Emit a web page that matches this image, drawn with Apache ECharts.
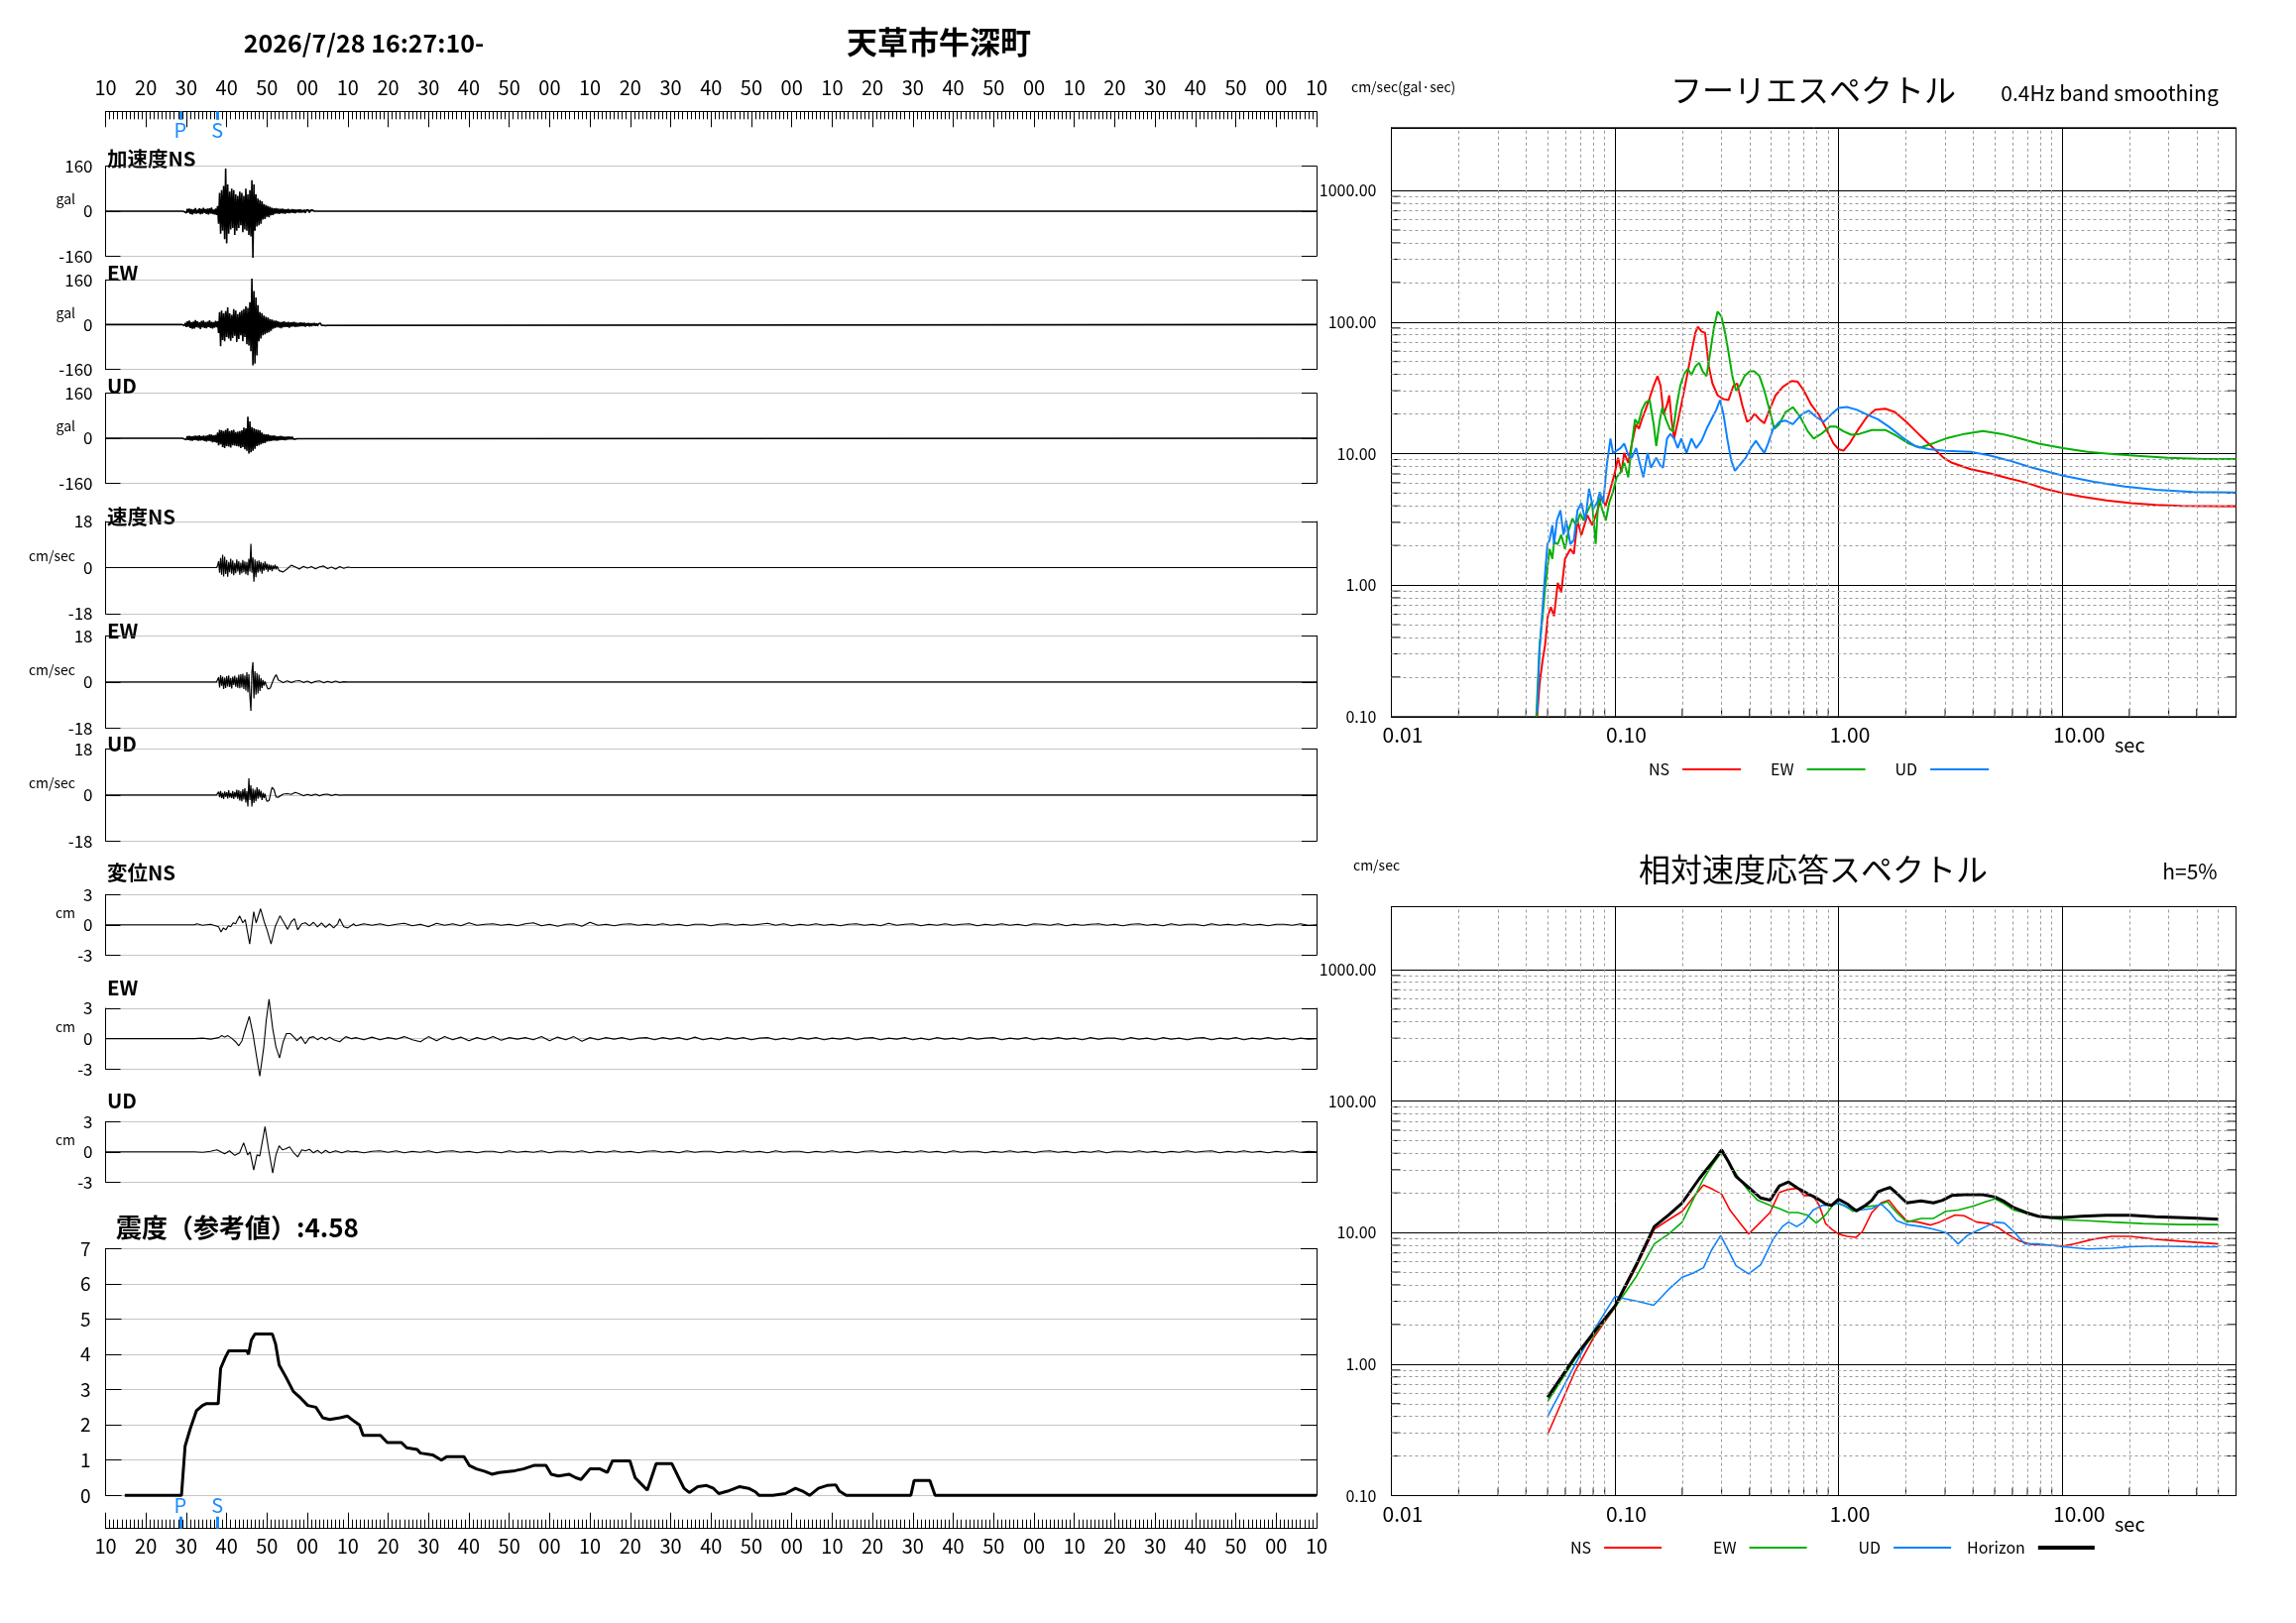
<!DOCTYPE html>
<html><head><meta charset="utf-8">
<script src="https://cdn.jsdelivr.net/npm/echarts/dist/echarts.min.js"></script>
<style>html,body{margin:0;padding:0;background:#fff}#c{width:2316px;height:1637px}</style>
</head><body><div id="c"></div>
<script>
// ---------------- DATA ----------------
const timeLabelStart = 10;          // 16:27:10
const P_TIME = 18.5, S_TIME = 27.7;  // seconds from start

// acceleration (gal), samples every 0.25 s
const accDt = 0.25;
const accNS_t0 = 19;
const accNS = [0,2,-2,3,-6,8,-5,9,-10,7,-12,6,-8,11,-9,5,-7,10,-11,8,-9,12,-6,7,-10,9,-12,10,-8,13,-10,6,-12,9,-14,18,
-45,65,-80,75,-70,90,-100,152,-115,95,-80,70,-65,80,-60,75,-85,60,-70,55,-60,70,-50,65,-75,55,-65,80,-70,60,-85,75,
-90,110,-166,95,-70,60,-55,45,-50,40,-45,35,-30,25,-28,22,-20,18,-22,16,-15,12,-14,10,-9,11,-8,9,-10,8,-7,9,
-8,7,-9,6,-6,8,-7,5,-5,7,-6,6,-7,5,-4,6,-5,6,-5,4,-4,5,-6,4,-3,4,-5,3,-3,4,-2,0];
const accEW_t0 = 19;
const accEW = [0,3,-4,6,-9,12,-8,14,-12,9,-15,11,-14,16,-10,12,-11,8,-16,13,-10,14,-12,9,-13,11,-9,15,-12,10,-14,9,-11,13,-10,12,
-30,45,-77,50,-55,40,-60,48,-45,62,-50,40,-58,35,-48,55,-40,50,-62,38,-52,45,-38,50,-60,55,-45,65,-70,60,-75,80,
-95,165,-146,120,-140,97,-110,70,-60,45,-50,40,-38,32,-35,28,-30,25,-28,20,-22,18,-15,14,-12,14,-10,12,-11,9,-13,10,
-10,12,-9,8,-9,10,-11,8,-8,9,-7,10,-9,7,-8,6,-7,8,-6,7,-6,7,-8,5,-5,6,-7,5,-6,5,-4,6,-5,4,-5,3,-4,5,-3,4,-3,4,-4,3,-3,2,-3,0];
const accUD_t0 = 19;
const accUD = [0,2,-3,4,-5,7,-6,8,-8,6,-9,7,-6,9,-7,8,-9,10,-8,7,-7,9,-10,8,-12,10,-9,14,-11,13,-15,10,-14,12,-16,20,
-25,30,-22,28,-32,25,-35,30,-28,35,-30,25,-33,28,-25,30,-26,22,-28,24,-30,25,-35,28,-32,38,-40,35,-45,77,-55,60,
-50,40,-45,35,-38,32,-28,30,-25,28,-22,20,-18,15,-17,14,-12,14,-11,10,-10,9,-8,10,-8,7,-9,6,-7,8,-6,7,-6,5,-7,5,
-5,6,-4,5,-4,5,-3,4,-3,2,-2,0];

// velocity (cm/sec), burst every 0.25 s, tail every 1 s
const velDt = 0.25, velTailDt = 1;
const velNS_t0 = 27.5, velNS_tail_t0 = 43;
const velNS = [0,0.8,2.5,-2.0,3.8,-2.8,5.0,-3.5,4.2,-2.5,3.0,-3.6,2.2,-1.8,3.5,-2.4,2.8,-3.0,1.8,-2.2,3.2,-1.5,2.5,-2.8,1.9,-2.2,
3.0,-1.8,2.4,-2.6,2.2,-3.0,3.5,-1.5,9.3,-2.0,4.0,-5.5,3.2,-3.8,2.6,-2.0,2.8,-1.5,2.2,-2.4,1.8,-1.2,2.4,-0.8,1.5,-1.6,1.2,-0.9,
1.0,-1.4,0.8,-0.6,1.1,-0.7,0.5,-0.4];
const velNS_tail = [-1.2,-1.7,-0.5,0.9,0.3,-0.6,0.5,-0.2,0.4,-0.5,0.3,0.6,-0.4,0.2,-0.6,0.4,-0.3,0.2,0];
const velEW_t0 = 27.5, velEW_tail_t0 = 43;
const velEW = [0,0.6,1.8,-2.2,2.6,-1.5,2.0,-2.8,1.6,-2.4,2.2,-1.8,2.5,-2.0,1.5,-2.6,2.0,-1.2,2.4,-1.9,1.7,-2.3,2.8,-2.5,3.0,-2.2,
3.2,-2.8,2.5,-3.4,3.8,-4.0,3.0,-5.5,-11.3,4.0,7.7,-6.5,4.2,-5.0,3.5,-4.5,2.8,-3.5,1.5,-2.4,0.8,-1.5,0.2,-1.0,-2.0,-2.8,-3.2,-2.5,
-1.5,-0.5,0.5,1.5,2.2,2.8,2.0,0.8];
const velEW_tail = [0.2,-0.3,0.4,-0.2,0.3,0.5,-0.2,0.3,-0.4,0.2,0.4,-0.3,0.2,-0.2,0.3,-0.2,0.1,0];
const velUD_t0 = 27.5, velUD_tail_t0 = 43;
const velUD = [0,0.5,1.2,-0.9,1.5,-1.2,0.8,-1.6,1.3,-0.7,1.0,-1.4,1.8,-1.0,0.7,-1.2,1.5,-1.6,1.1,-0.9,2.0,-1.5,1.8,-2.2,1.4,-2.5,
2.2,-1.8,2.6,-3.0,1.5,-4.5,6.5,-2.0,3.8,-4.5,2.5,-3.2,2.0,-2.5,3.0,-1.5,2.2,-1.0,1.6,-2.0,0.8,-1.2,0.5,-1.5,-2.5,-3.0,-2.2,-0.5,
1.5,3.0,3.4,2.0,0.5,-0.8,-1.3,-0.9];
const velUD_tail = [-0.4,0.3,0.5,0.2,1.0,0.4,-0.3,0.2,-0.2,0.3,-0.3,0.2,0.3,-0.2,0.2,-0.1,0];

// displacement (cm): [sec, cm] for the main phase, tail every 2 s
const dispTailDt = 2, dispTail_t0 = 62;
const dispNS = [[0,0],[22,0],[22.6,0.1],[24,-0.05],[26,0.05],[28,-0.2],[28.6,-0.7],[29.2,-0.3],[29.8,-0.5],[30.4,-0.1],[31,-0.2],[31.6,0.2],[32.2,0.1],
[33.2,0.9],[34,0.2],[34.6,0.5],[35.7,-1.9],[36.7,1.3],[37.3,0.2],[38.4,1.6],[39.3,0.3],[40,-0.5],[41,-1.9],[42,-0.2],[43.2,0.9],[44.2,0.2],
[45.1,-0.45],[46,0.3],[46.8,0.6],[47.6,-0.5],[48.6,0.1],[49.5,0.2],[50.5,-0.1],[51.5,0.25],[52.5,-0.2],[53.5,0.2],[54.5,-0.25],[55.5,0.1],
[56.5,-0.3],[57.5,0.1],[58,0.6],[59,-0.2],[60,-0.3],[61.5,0.1]];
const dispNS_tail = [-0.1,0.1,-0.05,0.1,-0.1,0.05,0.15,-0.1,0.05,-0.2,0.15,-0.05,0.1,-0.1,0.2,-0.05,0.05,0.1,-0.05,0.05,
-0.1,0.1,0.2,-0.1,0.05,-0.15,0.05,0.1,-0.15,0.25,-0.05,0.05,-0.1,0.05,0.1,-0.05,0.05,-0.05,0.1,-0.05,
0.05,-0.1,0.05,0.05,-0.1,0.05,0.1,-0.05,0.05,-0.05,0.05,0.15,-0.05,0.1,-0.1,0.05,-0.05,0.1,-0.05,0.05,
-0.1,0.05,0.1,-0.05,0.05,-0.1,0.15,-0.05,0.05,0.1,-0.1,0.05,-0.05,0.1,-0.05,0.05,0.1,-0.1,0.05,-0.05,
0.1,-0.05,0.05,-0.1,0.1,0.05,-0.05,0.1,-0.1,0.05,-0.05,0.05,0.1,-0.05,0.05,-0.1,0.05,0.1,-0.05,0.05,
-0.1,0.1,-0.05,0.05,0.05,-0.1,0.1,-0.05,0.05,-0.05,0.1,-0.05,0.05,-0.1,0.05,0.05,-0.05,0.1,-0.05,0];
const dispEW = [[0,0],[22,0],[24,0.05],[26,-0.05],[28,0.1],[28.8,0.3],[29.5,0.15],[30.3,0.3],[31.2,0.05],[32.2,-0.3],[33,-0.7],[33.8,-0.2],
[34.5,0.8],[35.6,2.2],[36.5,0.5],[37.3,-1.5],[38.2,-3.7],[39.2,-0.8],[39.8,1.8],[40.5,3.9],[41.4,1.0],[42.2,-0.8],[43.1,-1.9],[44,-0.3],
[44.8,0.5],[45.8,0.5],[46.8,0.1],[47.4,-0.2],[48.4,0.2],[49.5,-0.5],[50.5,0.1],[51.5,0.2],[52.5,-0.1],[53.5,0.15],[54.5,-0.1],[55.5,0.15],
[56.5,-0.1],[58,-0.3],[59.5,0.2],[61,0]];
const dispEW_tail = [0.1,-0.1,0.15,-0.1,0.1,-0.05,0.2,-0.1,-0.3,0.2,-0.2,0.2,-0.1,0.15,-0.2,0.1,-0.1,0.2,-0.15,0.1,
-0.05,0.1,-0.1,0.2,-0.2,0.15,-0.1,0.2,-0.25,0.1,-0.1,0.1,-0.05,0.1,-0.1,0.05,0.1,-0.1,0.1,-0.05,
0.1,-0.1,0.15,-0.1,0.05,-0.1,0.1,-0.05,0.1,-0.1,0.05,0.1,-0.1,0.05,-0.1,0.1,-0.05,0.1,-0.1,0.05,
-0.05,0.1,-0.1,0.05,0.1,-0.1,0.05,-0.05,0.1,-0.1,0.05,-0.1,0.1,-0.05,0.05,-0.1,0.1,-0.05,0.05,0.1,
-0.1,0.05,-0.05,0.1,-0.1,0.05,-0.05,0.1,-0.05,0.05,-0.1,0.1,-0.05,0.05,0.05,-0.1,0.1,-0.05,0.05,-0.1,
0.1,-0.05,0.05,-0.1,0.05,0.1,-0.1,0.05,-0.05,0.1,-0.1,0.05,-0.05,0.1,-0.05,0.05,-0.1,0.05,-0.05,0];
const dispUD = [[0,0],[22,0],[24,-0.05],[26,0.05],[27.6,0.2],[29.5,-0.2],[30.7,0.1],[32,-0.35],[33.2,-0.1],[34.2,0.9],[35.2,-0.3],[35.8,0.0],
[36.7,-1.8],[37.5,-0.3],[38.2,-0.4],[39.5,2.5],[40.4,0.2],[41.4,-2.1],[42.2,-0.3],[43,0.6],[43.8,0.2],[44.6,0.3],[45.6,0.5],[46.6,-0.1],
[47.6,-0.5],[48.6,0.2],[49.5,0.1],[50.5,0.25],[51.5,-0.1],[52.5,0.15],[53.5,-0.15],[54.5,0.15],[55.5,-0.1],[57,0.1],[58.5,-0.1],[60,0.1],[61,0]];
const dispUD_tail = [0.05,-0.1,0.05,0.1,-0.05,0.1,-0.1,0.05,-0.05,0.1,-0.1,0.05,0.1,-0.05,0.05,-0.1,0.05,0.05,-0.1,0.1,
-0.05,0.05,-0.05,0.1,-0.1,0.05,0.05,-0.05,0.1,-0.1,0.05,-0.05,0.1,-0.05,0.05,-0.1,0.05,0.1,-0.05,0.05,
-0.1,0.1,-0.05,0.05,0.05,-0.1,0.05,-0.05,0.1,-0.05,0.05,-0.1,0.1,-0.05,0.05,0.05,-0.1,0.05,-0.05,0.1,
-0.05,0.05,-0.1,0.05,0.1,-0.05,0.05,-0.1,0.05,-0.05,0.1,-0.05,0.05,-0.1,0.1,-0.05,0.05,0.05,-0.1,0.05,
-0.05,0.1,-0.05,0.05,-0.1,0.05,0.1,-0.05,0.05,-0.1,0.05,-0.05,0.1,-0.1,0.05,0.05,-0.05,0.1,-0.05,0.05,
-0.1,0.05,-0.05,0.1,-0.05,0.05,0.1,-0.1,0.05,-0.05,0.1,-0.05,0.05,-0.1,0.05,-0.05,0.1,-0.05,0.05,0];

// seismic intensity (reference value) vs time [sec, intensity]
const intensity = [[4.75,0],[18.8,0],[19.7,1.4],[21.0,1.9],[22.5,2.4],[24.0,2.55],[24.9,2.6],[27.9,2.6],[28.5,3.6],[29.6,3.9],[30.5,4.1],
[35.0,4.1],[35.4,4.0],[36.1,4.4],[37.0,4.58],[41.3,4.58],[42.1,4.3],[43.0,3.7],[44.7,3.35],[46.5,2.95],[48.4,2.75],[50.1,2.55],[52.1,2.5],
[53.8,2.2],[55.5,2.15],[58.1,2.2],[59.9,2.25],[61.6,2.1],[62.9,2.0],[63.8,1.7],[68.1,1.7],[69.8,1.5],[73.3,1.5],[74.6,1.35],[77.2,1.3],
[78.0,1.2],[81.0,1.15],[83.2,1.0],[84.5,1.1],[88.8,1.1],[90.1,0.85],[91.9,0.75],[94.0,0.68],[95.7,0.6],[97.5,0.65],[101.4,0.7],[103.5,0.75],
[106.1,0.85],[109.1,0.85],[110.4,0.6],[112.2,0.55],[114.8,0.6],[116.5,0.5],[117.8,0.45],[120.0,0.75],[122.5,0.75],[124.3,0.65],[125.6,0.98],
[129.9,0.98],[131.2,0.5],[132.9,0.3],[134.2,0.15],[136.4,0.9],[140.3,0.9],[142.0,0.5],[143.3,0.2],[144.6,0.08],[146.7,0.25],[148.9,0.28],
[150.6,0.2],[151.9,0.05],[154.1,0.12],[157.1,0.25],[159.3,0.2],[161.0,0.1],[161.9,0],[165.3,0],[168.4,0.05],[170.9,0.2],[172.7,0.12],
[174.4,0],[176.6,0.2],[178.7,0.28],[180.9,0.3],[181.8,0.12],[183.5,0],[199.5,0],[200.3,0.42],[204.2,0.42],[205.5,0],[300,0]];
const intensityValue = 4.58;

// Fourier spectrum [period sec, cm/sec]
const fourierNS = [[0.0449,0.1],[0.046,0.177],[0.0475,0.27],[0.0487,0.35],[0.0501,0.58],[0.0517,0.68],[0.0534,0.58],[0.0555,1.04],[0.0575,0.88],
[0.0598,1.58],[0.0632,1.88],[0.0655,1.73],[0.068,3.1],[0.0708,2.4],[0.0753,3.4],[0.0792,2.85],[0.0836,3.7],[0.0873,4.7],[0.0908,4.0],[0.0955,5.4],
[0.1,7.2],[0.1032,9.3],[0.107,7.2],[0.11,10.1],[0.1147,8.5],[0.119,11.9],[0.1244,16.7],[0.128,15.4],[0.132,18.2],[0.137,21.5],[0.143,26.5],
[0.149,32.8],[0.155,38.8],[0.16,32.8],[0.165,19.8],[0.171,23.4],[0.175,27.7],[0.179,18.2],[0.184,13.0],[0.19,16.7],[0.196,21.5],[0.204,30.1],
[0.212,42.1],[0.22,59.0],[0.229,82.7],[0.235,92],[0.244,84.6],[0.253,82.7],[0.263,45.9],[0.273,34.1],[0.288,27.7],[0.306,25.9],[0.322,25.5],
[0.339,32.8],[0.352,34.1],[0.371,23.4],[0.39,17.4],[0.405,18.2],[0.421,20.1],[0.443,18.2],[0.466,17.0],[0.491,21.5],[0.523,27.7],[0.564,32.2],
[0.617,35.6],[0.657,35.1],[0.70,30.1],[0.756,23.4],[0.816,19.8],[0.881,15.4],[0.95,11.9],[1.0,10.8],[1.052,10.5],[1.12,11.9],[1.23,15.4],
[1.34,19.0],[1.46,21.5],[1.62,21.9],[1.79,20.6],[2.01,17.4],[2.28,14.1],[2.6,11.4],[2.95,9.3],[3.22,8.5],[3.9,7.6],[4.72,7.1],[5.72,6.5],
[6.92,6.0],[8.38,5.4],[10.1,5.0],[12.3,4.7],[15.8,4.4],[20.4,4.2],[26.3,4.07],[34,4.0],[60,3.96]];
const fourierEW = [[0.0445,0.1],[0.046,0.35],[0.0475,0.58],[0.0487,0.95],[0.0499,1.34],[0.051,1.88],[0.0525,1.58],[0.0534,2.13],[0.0555,2.05],
[0.0575,2.41],[0.0598,1.88],[0.062,2.6],[0.0645,3.2],[0.067,2.85],[0.070,3.5],[0.0725,3.1],[0.0757,3.7],[0.079,4.3],[0.082,2.05],[0.0845,4.7],
[0.0875,3.8],[0.091,3.1],[0.0945,4.3],[0.098,5.1],[0.1017,6.6],[0.106,7.2],[0.110,8.5],[0.1147,6.6],[0.119,11.9],[0.123,18.2],[0.127,16.7],
[0.132,21.5],[0.137,24.4],[0.143,25.5],[0.149,16.7],[0.153,11.4],[0.159,18.2],[0.163,22.5],[0.169,18.2],[0.176,15.4],[0.182,14.8],[0.189,23.4],
[0.196,32.8],[0.204,40.4],[0.212,44.0],[0.220,39.6],[0.229,45.9],[0.238,49.0],[0.247,42.1],[0.257,38.8],[0.267,59.0],[0.277,90],[0.288,120],
[0.299,111],[0.311,82.7],[0.322,59.0],[0.335,38.8],[0.348,30.1],[0.362,32.8],[0.380,38.8],[0.400,42.1],[0.421,42.1],[0.443,38.8],[0.466,30.1],
[0.491,21.5],[0.516,15.4],[0.543,16.7],[0.579,20.6],[0.625,22.5],[0.674,19.0],[0.728,14.8],[0.775,13.0],[0.837,14.1],[0.915,16.0],[0.975,16.0],
[1.05,14.8],[1.14,13.9],[1.24,14.1],[1.41,15.1],[1.62,15.1],[1.82,13.6],[2.06,11.9],[2.31,11.1],[2.63,11.9],[3.02,13.0],[3.66,14.1],[4.43,14.8],
[5.36,14.1],[6.49,13.0],[7.86,11.9],[10.1,11.0],[13.0,10.3],[16.8,9.9],[21.7,9.6],[29.7,9.3],[43.7,9.1],[60,9.1]];
const fourierUD = [[0.0449,0.107],[0.046,0.32],[0.0475,0.68],[0.0487,1.23],[0.0499,2.05],[0.051,2.2],[0.0525,2.85],[0.0534,2.05],[0.055,3.1],
[0.057,3.7],[0.0589,2.41],[0.0605,3.1],[0.0632,2.05],[0.0655,2.2],[0.068,3.7],[0.0708,4.2],[0.0737,3.1],[0.0766,5.4],[0.080,3.8],[0.0836,4.3],
[0.0855,5.1],[0.0886,4.2],[0.092,8.2],[0.0955,13.0],[0.098,10.1],[0.1017,10.5],[0.106,11.0],[0.110,11.9],[0.1147,9.7],[0.119,9.3],[0.1244,11.0],
[0.129,8.5],[0.134,6.6],[0.140,10.1],[0.145,7.8],[0.153,9.3],[0.159,8.2],[0.164,7.8],[0.171,13.0],[0.177,14.1],[0.184,13.0],[0.191,11.0],
[0.198,13.0],[0.209,10.1],[0.220,13.0],[0.231,11.0],[0.244,12.5],[0.257,15.4],[0.270,18.2],[0.284,21.5],[0.295,25.5],[0.306,19.8],[0.318,13.0],
[0.331,8.9],[0.344,7.4],[0.362,8.2],[0.385,9.3],[0.405,11.0],[0.427,12.5],[0.449,11.0],[0.466,10.1],[0.484,11.9],[0.510,15.4],[0.543,17.4],
[0.579,17.8],[0.625,16.7],[0.683,19.8],[0.737,21.2],[0.795,19.0],[0.858,17.4],[0.927,19.8],[1.0,22.2],[1.09,22.6],[1.21,21.5],[1.34,19.8],
[1.50,18.2],[1.68,16.0],[1.94,13.2],[2.20,11.4],[2.53,10.8],[3.02,10.5],[3.90,10.3],[4.72,9.7],[5.72,8.9],[7.37,7.8],[10.1,6.8],[13.9,6.1],
[19.1,5.6],[26.3,5.3],[38.5,5.1],[60,5.05]];

// Relative velocity response spectrum, h=5% [period sec, cm/sec]
const respNS = [[0.05,0.292],[0.0665,0.89],[0.0805,1.6],[0.1,2.69],[0.124,5.4],[0.15,10.6],[0.174,12.5],[0.2,14.5],[0.223,18.3],[0.249,23.0],
[0.274,21.3],[0.3,19.6],[0.327,14.8],[0.36,12.0],[0.396,9.75],[0.435,11.4],[0.494,14.2],[0.544,20.2],[0.598,21.3],[0.658,21.7],[0.70,19.1],
[0.77,19.1],[0.82,16.1],[0.875,11.7],[0.933,10.6],[1.0,9.75],[1.093,9.35],[1.2,9.2],[1.28,10.2],[1.41,14.2],[1.55,16.8],[1.68,17.6],[1.82,14.8],
[2.02,12.3],[2.27,12.0],[2.58,11.4],[2.83,12.0],[3.32,13.6],[3.65,13.4],[4.15,12.0],[4.71,11.7],[5.18,10.9],[5.69,9.75],[6.46,8.6],[7.34,8.1],
[8.88,8.0],[10.1,7.9],[11.4,8.2],[13.8,8.9],[16.7,9.35],[20.2,9.35],[26.1,8.9],[33.7,8.6],[50,8.2]];
const respEW = [[0.05,0.52],[0.0665,1.1],[0.0805,1.67],[0.1,2.69],[0.124,4.57],[0.15,8.2],[0.174,9.75],[0.2,12.0],[0.223,17.6],[0.249,25.6],
[0.274,33.0],[0.3,40.7],[0.327,33.0],[0.36,25.6],[0.396,20.8],[0.435,17.6],[0.494,16.1],[0.544,15.2],[0.598,14.2],[0.658,14.2],[0.723,13.6],
[0.796,11.8],[0.875,13.6],[0.96,16.8],[1.06,16.1],[1.16,14.5],[1.32,15.7],[1.50,16.1],[1.65,17.2],[1.82,14.2],[2.02,12.0],[2.34,12.8],[2.66,12.8],
[3.02,14.5],[3.43,14.8],[4.01,15.9],[4.57,17.2],[5.02,18.0],[5.52,16.5],[6.07,14.8],[7.34,13.6],[8.88,12.9],[10.1,12.5],[13.0,12.3],[16.7,12.0],
[23.0,11.7],[33.7,11.5],[50,11.5]];
const respUD = [[0.05,0.40],[0.0665,1.0],[0.0805,1.81],[0.1,3.27],[0.111,3.13],[0.126,3.0],[0.149,2.8],[0.174,3.7],[0.2,4.57],[0.223,4.9],
[0.249,5.4],[0.27,7.3],[0.297,9.5],[0.322,7.3],[0.348,5.6],[0.396,4.85],[0.449,5.7],[0.51,8.9],[0.561,11.1],[0.598,12.0],[0.65,11.1],[0.70,12.0],
[0.77,14.8],[0.848,16.1],[0.933,16.1],[1.0,16.8],[1.093,15.5],[1.24,14.8],[1.41,15.2],[1.55,16.5],[1.70,14.2],[1.82,12.3],[2.02,11.5],[2.34,11.1],
[2.66,10.6],[3.02,10.0],[3.21,9.2],[3.43,8.2],[3.77,9.5],[4.15,10.3],[4.57,11.1],[5.02,12.0],[5.52,11.8],[6.07,10.2],[6.8,8.2],[7.82,8.2],
[8.88,8.0],[10.1,7.8],[13.0,7.5],[16.7,7.6],[20.2,7.8],[26.1,7.9],[38.2,7.8],[50,7.8]];
const respH = [[0.05,0.558],[0.0665,1.14],[0.0805,1.74],[0.1,2.76],[0.124,5.6],[0.15,11.1],[0.174,13.6],[0.2,16.8],[0.238,25.6],[0.274,34.5],
[0.3,42.5],[0.322,34.5],[0.348,26.7],[0.396,22.0],[0.449,18.3],[0.494,17.6],[0.544,22.6],[0.598,24.2],[0.658,21.7],[0.723,19.9],[0.796,18.3],
[0.875,16.5],[0.933,16.1],[1.0,17.9],[1.093,16.5],[1.2,14.6],[1.32,16.1],[1.41,17.6],[1.50,20.4],[1.60,21.3],[1.70,22.0],[1.82,19.9],[2.02,16.8],
[2.34,17.4],[2.66,16.8],[2.92,17.6],[3.21,19.1],[3.65,19.4],[4.42,19.4],[5.02,18.6],[5.52,17.2],[6.07,15.5],[6.89,14.2],[7.82,13.3],[8.88,13.0],
[10.1,13.0],[12.2,13.3],[15.7,13.5],[20.2,13.5],[26.1,13.2],[38.2,12.9],[50,12.6]];

// grid ticks of the log charts
const logMinorX = [0.02,0.03,0.04,0.05,0.06,0.07,0.08,0.09,0.2,0.3,0.4,0.5,0.6,0.7,0.8,0.9,2,3,4,5,6,7,8,9,20,30,40,50];
const logMinorY = [0.2,0.3,0.4,0.5,0.6,0.7,0.8,0.9,2,3,4,5,6,7,8,9,20,30,40,50,60,70,80,90,200,300,400,500,600,700,800,900];
const legendNames = ['NS','EW','UD'];

// ---------------- BUILD ----------------
const FONT = '"Noto Sans CJK JP", "Noto Sans", sans-serif';
const RED = '#ff0000', GREEN = '#00b000', BLUE = '#0a82ff', PSC = '#1a8cff';
function seq(t0, dt, vals) { return vals.map((v, i) => [+(t0 + i * dt).toFixed(3), v]); }
function pad(arr) { return [[0, 0]].concat(arr, [[300, 0]]); }

const trAccNS = pad(seq(accNS_t0, accDt, accNS));
const trAccEW = pad(seq(accEW_t0, accDt, accEW));
const trAccUD = pad(seq(accUD_t0, accDt, accUD));
const trVelNS = pad(seq(velNS_t0, velDt, velNS).concat(seq(velNS_tail_t0, velTailDt, velNS_tail)));
const trVelEW = pad(seq(velEW_t0, velDt, velEW).concat(seq(velEW_tail_t0, velTailDt, velEW_tail)));
const trVelUD = pad(seq(velUD_t0, velDt, velUD).concat(seq(velUD_tail_t0, velTailDt, velUD_tail)));
const trDispNS = dispNS.concat(seq(dispTail_t0, dispTailDt, dispNS_tail));
const trDispEW = dispEW.concat(seq(dispTail_t0, dispTailDt, dispEW_tail));
const trDispUD = dispUD.concat(seq(dispTail_t0, dispTailDt, dispUD_tail));

const LEFT = 106.5, WIDTH = 1221.5;
const panels = [
  {title:'加速度NS', top:167.7, h:90.6, lim:160, unit:'gal', data:trAccNS, tdy:-7, lw:1.6},
  {title:'EW', top:282.3, h:90.2, lim:160, unit:'gal', data:trAccEW, tdy:-7, lw:1.6},
  {title:'UD', top:396.7, h:90.6, lim:160, unit:'gal', data:trAccUD, tdy:-7, lw:1.6},
  {title:'速度NS', top:526, h:93, lim:18, unit:'cm/sec', data:trVelNS, tdy:-5, lw:1.2},
  {title:'EW', top:641.3, h:93, lim:18, unit:'cm/sec', data:trVelEW, tdy:-5, lw:1.2},
  {title:'UD', top:755.3, h:93, lim:18, unit:'cm/sec', data:trVelUD, tdy:-5, lw:1.2},
  {title:'変位NS', top:902.3, h:61, lim:3, unit:'cm', data:trDispNS, tdy:-22, lw:1.1},
  {title:'EW', top:1017, h:61.3, lim:3, unit:'cm', data:trDispEW, tdy:-21, lw:1.1},
  {title:'UD', top:1131.3, h:61, lim:3, unit:'cm', data:trDispUD, tdy:-21, lw:1.1}
];

const grids = [], xAxes = [], yAxes = [], series = [], graphics = [];
function txt(text, x, y, size, align, weight, color) {
  graphics.push({type:'text', x:x, y:y, silent:true, style:{text:text, fill:color||'#000',
    font: (weight||'normal') + ' ' + size + 'px ' + FONT, textAlign: align||'left', textVerticalAlign:'middle', align: align||'left', verticalAlign:'middle'}});
}
const dotted = {show:true, lineStyle:{color:'#8a8a8a', type:'dotted', width:1}};

panels.forEach((p, i) => {
  grids.push({left:LEFT, width:WIDTH, top:p.top, height:p.h});
  xAxes.push({gridIndex:i, type:'value', min:0, max:300, show:false});
  yAxes.push({gridIndex:i, type:'value', min:-p.lim, max:p.lim, interval:p.lim, position:'left',
    axisLine:{show:true, onZero:false, lineStyle:{color:'#000', width:1}},
    axisTick:{show:true, inside:true, length:15, lineStyle:{color:'#000'}},
    axisLabel:{color:'#000', fontSize:17, margin:13, fontFamily:FONT, padding:[0,0,5,0]},
    splitLine:dotted});
  yAxes.push({gridIndex:i, type:'value', min:-p.lim, max:p.lim, interval:p.lim, position:'right',
    axisLine:{show:true, onZero:false, lineStyle:{color:'#000', width:1}},
    axisTick:{show:true, inside:true, length:15, lineStyle:{color:'#000'}},
    axisLabel:{show:false}, splitLine:{show:false}});
  series.push({type:'line', xAxisIndex:i, yAxisIndex:2*i, data:p.data, showSymbol:false, symbol:'none',
    clip:false, silent:true, lineStyle:{color:'#000', width:p.lw}});
  txt(p.title, 108, p.top + p.tdy, 20.5, 'left', 'bold');
  txt(p.unit, 76, p.top + p.h / 2 - 12, 14, 'right');
});

// intensity panel (grid 9)
grids.push({left:LEFT, width:WIDTH, top:1259.3, height:249});
xAxes.push({gridIndex:9, type:'value', min:0, max:300, show:false});
yAxes.push({gridIndex:9, type:'value', min:0, max:7, interval:1, position:'left',
  axisLine:{show:true, onZero:false, lineStyle:{color:'#000'}},
  axisTick:{show:true, inside:true, length:16, lineStyle:{color:'#000'}},
  axisLabel:{color:'#000', fontSize:19, margin:15, fontFamily:FONT, padding:[0,0,3,0]}, splitLine:dotted});
yAxes.push({gridIndex:9, type:'value', min:0, max:7, interval:1, position:'right',
  axisLine:{show:true, onZero:false, lineStyle:{color:'#000'}},
  axisTick:{show:true, inside:true, length:16, lineStyle:{color:'#000'}},
  axisLabel:{show:false}, splitLine:{show:false}});
series.push({type:'line', xAxisIndex:9, yAxisIndex:18, data:intensity, showSymbol:false, symbol:'none',
  silent:true, clip:false, lineStyle:{color:'#000', width:3}});
txt('震度（参考値）:' + intensityValue.toFixed(2), 117, 1238, 26, 'left', 'bold');

// time rulers (grid 10 top, grid 11 bottom)
const tFmt = v => String((timeLabelStart + v) % 60).padStart(2, '0');
function ruler(gi, top, h, pos, margin, minorLen) {
  grids.push({left:LEFT, width:WIDTH, top:top, height:h});
  xAxes.push({gridIndex:gi, type:'value', min:0, max:300, interval:10, position:pos,
    axisLine:{show:true, onZero:false, lineStyle:{color:'#000', width:1.2}},
    axisTick:{show:true, inside:true, length:16, lineStyle:{color:'#000'}},
    minorTick:{show:true, splitNumber:10, length:minorLen, lineStyle:{color:'#000'}},
    axisLabel:{color:'#000', fontSize:20, margin:margin, fontFamily:FONT, formatter:tFmt, showMinLabel:true, showMaxLabel:true},
    splitLine:{show:false}});
  yAxes.push({gridIndex:gi, type:'value', min:0, max:1, show:false});
  series.push({type:'line', xAxisIndex:gi, yAxisIndex:yAxes.length - 1, data:[], silent:true,
    markLine:{silent:true, symbol:'none', animation:false,
      lineStyle:{color:PSC, width:3, type:'solid'},
      label:{show:true, position: pos === 'top' ? 'start' : 'end', distance:1, color:PSC, fontSize:20, fontFamily:FONT,
        formatter: q => q.name},
      data:[{name:'P', xAxis:P_TIME}, {name:'S', xAxis:S_TIME}]}});
}
ruler(10, 112.3, 8.5, 'top', 14, 8);
ruler(11, 1529.7, 12, 'bottom', 8, 9);

// log charts (grid 12 Fourier, grid 13 response)
const decadeFmt = v => { const l = Math.log10(v); return (Math.abs(l - Math.round(l)) < 1e-6 && v < 2000) ? v.toFixed(2) : ''; };
function logChart(gi, top) {
  grids.push({left:1403.5, width:852, top:top, height:594, show:true, borderColor:'#000', borderWidth:1, backgroundColor:'transparent'});
  xAxes.push({gridIndex:gi, type:'log', logBase:10, min:0.01, max:60,
    axisLine:{show:true, onZero:false, lineStyle:{color:'#000'}},
    axisTick:{show:true, inside:true, length:8, lineStyle:{color:'#000'}},
    axisLabel:{color:'#000', fontSize:21, margin:8, align:'left', padding:[0,0,0,-9], fontFamily:FONT, formatter:decadeFmt},
    splitLine:{show:true, lineStyle:{color:'#000', width:1}}});
  yAxes.push({gridIndex:gi, type:'log', logBase:10, min:0.1, max:3000,
    axisLine:{show:true, onZero:false, lineStyle:{color:'#000'}},
    axisTick:{show:true, inside:true, length:8, lineStyle:{color:'#000'}},
    axisLabel:{color:'#000', fontSize:16, margin:15, fontFamily:FONT, padding:[0,0,5,0], formatter:decadeFmt},
    splitLine:{show:true, lineStyle:{color:'#000', width:1}}});
  const yi = yAxes.length - 1;
  series.push({type:'line', xAxisIndex:gi, yAxisIndex:yi, data:[], silent:true,
    markLine:{silent:true, symbol:'none', animation:false, label:{show:false},
      lineStyle:{color:'#9a9a9a', type:[3,3], width:1},
      data: logMinorX.map(v => ({xAxis:v})).concat(logMinorY.map(v => ({yAxis:v})))}});
  // short solid edge ticks at the minor grid values
  series.push({type:'custom', xAxisIndex:gi, yAxisIndex:yi, silent:true,
    data: logMinorY.map(v => [0.01, v, 1]).concat(logMinorX.map(v => [v, 0.1, 0])),
    renderItem: (params, api) => {
      const cs = params.coordSys;
      const pt = api.coord([api.value(0), api.value(1)]);
      const st = {stroke:'#000', lineWidth:1};
      if (api.value(2) === 1) {
        return {type:'group', children:[
          {type:'line', shape:{x1:cs.x, y1:pt[1], x2:cs.x + 9, y2:pt[1]}, style:st},
          {type:'line', shape:{x1:cs.x + cs.width - 9, y1:pt[1], x2:cs.x + cs.width, y2:pt[1]}, style:st}]};
      }
      return {type:'line', shape:{x1:pt[0], y1:cs.y + cs.height, x2:pt[0], y2:cs.y + cs.height - 8}, style:st};
    }});
  return yi;
}
const fy = logChart(12, 128.8);
[['NS', fourierNS, RED], ['EW', fourierEW, GREEN], ['UD', fourierUD, BLUE]].forEach(s => {
  series.push({name:s[0], type:'line', xAxisIndex:12, yAxisIndex:fy, data:s[1], showSymbol:false, symbol:'none',
    silent:true, lineStyle:{color:s[2], width:2}, itemStyle:{color:s[2]}});
});
const ry = logChart(13, 914.5);
[['NS', respNS, RED, 1.6], ['EW', respEW, GREEN, 1.6], ['UD', respUD, BLUE, 1.6], ['Horizon', respH, '#000', 3]].forEach(s => {
  series.push({name:s[0], type:'line', xAxisIndex:13, yAxisIndex:ry, data:s[1], showSymbol:false, symbol:'none',
    silent:true, lineStyle:{color:s[2], width:s[3]}, itemStyle:{color:s[2]}});
});

// header texts
txt('2026/7/28 16:27:10-', 367, 43, 25, 'center', 'bold');
txt('天草市牛深町', 947, 42, 31, 'center', 'bold');
txt('cm/sec(gal·sec)', 1363, 87.5, 14, 'left');
txt('フーリエスペクトル', 1829, 91, 32, 'center');
txt('0.4Hz band smoothing', 2128, 94, 21, 'center');
txt('sec', 2133, 751, 20, 'left');
txt('cm/sec', 1365, 873, 14, 'left');
txt('相対速度応答スペクトル', 1829, 877, 32, 'center');
txt('h=5%', 2209, 879, 21, 'center');
txt('sec', 2133, 1537, 20, 'left');

const legTxt = {fontSize:16, color:'#000', fontFamily:FONT, padding:[0,8,0,0]};
const option = {
  animation:false,
  textStyle:{fontFamily:FONT, color:'#000'},
  grid:grids, xAxis:xAxes, yAxis:yAxes, series:series, graphic:graphics,
  legend:[
    {data:legendNames, left:1663, top:768, align:'right', icon:'rect', itemWidth:59, itemHeight:2, itemGap:30,
      selectedMode:false, textStyle:legTxt, padding:0},
    {data:legendNames, left:1584, top:1553, align:'right', icon:'rect', itemWidth:58, itemHeight:2, itemGap:52,
      selectedMode:false, textStyle:legTxt, padding:0},
    {data:['Horizon'], left:1984, top:1553, align:'right', icon:'rect', itemWidth:57, itemHeight:4,
      selectedMode:false, textStyle:legTxt, padding:0}
  ]
};
const chart = echarts.init(document.getElementById('c'), null, {renderer:'canvas'});
chart.setOption(option);
</script></body></html>
